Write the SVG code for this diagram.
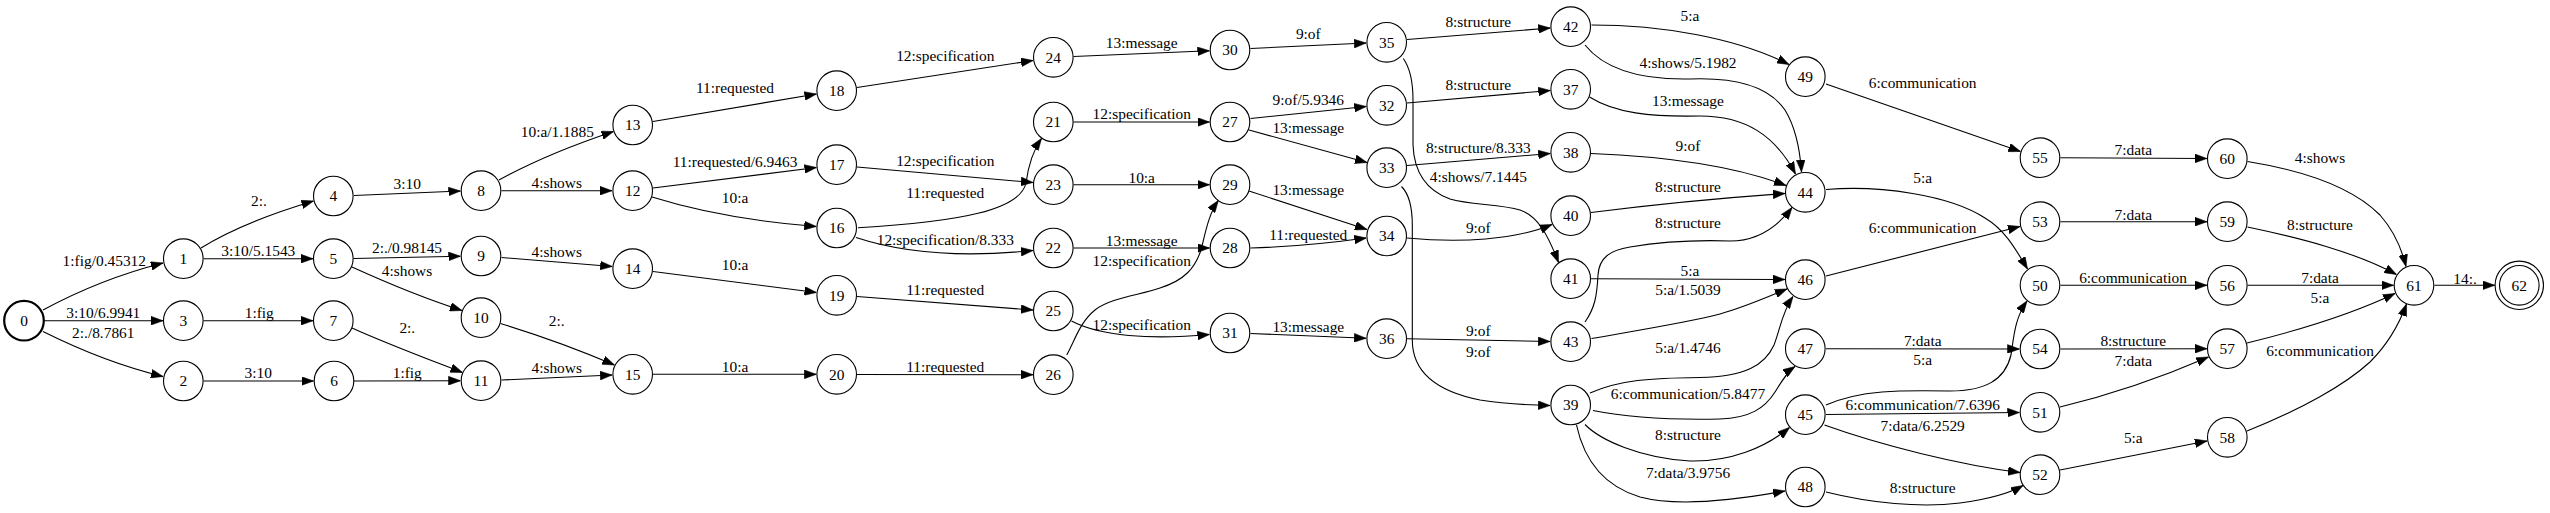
<svg xmlns="http://www.w3.org/2000/svg" width="2550" height="513" viewBox="0 0 2550 513">
<style>
.n circle{fill:none;stroke:#000;stroke-width:1.1}
.n text,.e text{font-family:"Liberation Serif","Times New Roman",serif;font-size:15.4px;text-anchor:middle;fill:#000}
.e path{fill:none;stroke:#000;stroke-width:1.1;marker-end:url(#ah)}
</style>
<defs>
<marker id="ah" markerUnits="userSpaceOnUse" markerWidth="12" markerHeight="9" viewBox="0 0 11 8" refX="11" refY="4" orient="auto">
<path d="M0,0 L11,4 L0,8 z" fill="#000" stroke="#000" stroke-width="0.5"/>
</marker>
</defs>
<rect width="2550" height="513" fill="#fff"/>
<g id="connectors">
<g class="e"><path d="M43,310 C80,290 120,274 163,263"/><text x="104.3" y="265.7">1:fig/0.45312</text></g>
<g class="e"><path d="M44,320.7 L163,320.7"/><text x="103.3" y="318">3:10/6.9941</text></g>
<g class="e"><path d="M43,331.5 C80,350 120,366 163,376.5"/><text x="103.3" y="337.5">2:./8.7861</text></g>
<g class="e"><path d="M201,248 C230,230 270,214 313.5,201"/><text x="259" y="206">2:.</text></g>
<g class="e"><path d="M203.5,258.7 L313,258.7"/><text x="258.3" y="256">3:10/5.1543</text></g>
<g class="e"><path d="M203.5,320.7 L313,320.7"/><text x="259.3" y="318">1:fig</text></g>
<g class="e"><path d="M203.5,381 L313.5,381"/><text x="258.3" y="378">3:10</text></g>
<g class="e"><path d="M354,195.5 L460.5,191"/><text x="407.3" y="189.3">3:10</text></g>
<g class="e"><path d="M353.5,258.5 L460.5,256.2"/><text x="407" y="253.3">2:./0.98145</text></g>
<g class="e"><path d="M352,267 C385,282 420,297 462,310.5"/><text x="407" y="275.7">4:shows</text></g>
<g class="e"><path d="M352,328 C385,343 425,358 462.5,372.5"/><text x="407.3" y="332.5">2:.</text></g>
<g class="e"><path d="M354,381 L460.5,380.7"/><text x="407.3" y="378">1:fig</text></g>
<g class="e"><path d="M499,180 C530,163 570,146 613.5,131.5"/><text x="557.3" y="136.7">10:a/1.1885</text></g>
<g class="e"><path d="M501.5,190.7 L612,190.7"/><text x="556.7" y="188.3">4:shows</text></g>
<g class="e"><path d="M501.5,257.5 L612.3,266.5"/><text x="556.7" y="256.7">4:shows</text></g>
<g class="e"><path d="M500.5,323.5 C535,334 575,348 614.5,365"/><text x="556.7" y="326.3">2:.</text></g>
<g class="e"><path d="M501.5,380 L612.2,375"/><text x="556.7" y="373">4:shows</text></g>
<g class="e"><path d="M653,121.5 L816.5,94"/><text x="735" y="93.3">11:requested</text></g>
<g class="e"><path d="M653,188 L816.5,167.5"/><text x="735" y="167.3">11:requested/6.9463</text></g>
<g class="e"><path d="M652,197 C700,212 760,222 816.3,226.5"/><text x="735" y="203.3">10:a</text></g>
<g class="e"><path d="M653,271.5 L816.5,292.5"/><text x="735" y="270.3">10:a</text></g>
<g class="e"><path d="M653,374.3 L816.3,374.3"/><text x="735" y="372">10:a</text></g>
<g class="e"><path d="M857,87.5 L1033,60.5"/><text x="945.3" y="61">12:specification</text></g>
<g class="e"><path d="M857,167 L1033,182.5"/><text x="945.3" y="165.7">12:specification</text></g>
<g class="e"><path d="M858,227.7 C960,222 1020,210 1026,183 C1028,168 1032,152 1041.5,138.5"/><text x="945.3" y="198.3">11:requested</text></g>
<g class="e"><path d="M856,237.5 C900,252 960,258 1033,250.5"/><text x="945.3" y="245">12:specification/8.333</text></g>
<g class="e"><path d="M857,296.5 L1033,310"/><text x="945.3" y="295.3">11:requested</text></g>
<g class="e"><path d="M857,374.5 L1033,374.7"/><text x="945.3" y="372">11:requested</text></g>
<g class="e"><path d="M1073.5,56.5 L1209.5,50.8"/><text x="1141.7" y="48.3">13:message</text></g>
<g class="e"><path d="M1073.5,122 L1209.5,122"/><text x="1141.7" y="119.3">12:specification</text></g>
<g class="e"><path d="M1073.5,184.7 L1209.5,184.7"/><text x="1141.7" y="182.7">10:a</text></g>
<g class="e"><path d="M1073.5,248 L1209.5,248"/><text x="1141.7" y="245.7">13:message</text></g>
<g class="e"><path d="M1066.7,355 C1075,340 1080,322 1095,310 C1110,298 1140,295 1160,288 C1185,280 1195,268 1201,250 C1205,235 1208,215 1218.3,200.5"/><text x="1141.7" y="266.3">12:specification</text></g>
<g class="e"><path d="M1071.5,321 C1100,336 1150,340 1209.5,334.5"/><text x="1141.7" y="329.7">12:specification</text></g>
<g class="e"><path d="M1250.5,48.5 L1366.2,43"/><text x="1308.3" y="39.3">9:of</text></g>
<g class="e"><path d="M1250.5,118.5 L1366.3,106.5"/><text x="1308.3" y="105">9:of/5.9346</text></g>
<g class="e"><path d="M1249,130 L1367,162.5"/><text x="1308.3" y="133.3">13:message</text></g>
<g class="e"><path d="M1249,191 L1367,229.5"/><text x="1308.3" y="195">13:message</text></g>
<g class="e"><path d="M1250.5,248 C1290,247 1330,243 1366.3,238"/><text x="1308.3" y="240">11:requested</text></g>
<g class="e"><path d="M1250.5,333.5 L1366.2,338.3"/><text x="1308.3" y="332">13:message</text></g>
<g class="e"><path d="M1407,39.5 L1550.3,28"/><text x="1478.3" y="27.3">8:structure</text></g>
<g class="e"><path d="M1407,103 L1550.3,90.5"/><text x="1478.3" y="90">8:structure</text></g>
<g class="e"><path d="M1407,165.5 L1550.3,153.5"/><text x="1478.3" y="153.3">8:structure/8.333</text></g>
<g class="e"><path d="M1403.3,58.5 C1410,68 1413,80 1413,100 L1413,145 C1414,170 1425,190 1450,199 C1470,205 1500,204 1520,210 C1538,216 1548,235 1558.5,262.5"/><text x="1478.3" y="181.7">4:shows/7.1445</text></g>
<g class="e"><path d="M1407,238 C1460,243 1515,240 1552,224.5"/><text x="1478.3" y="233.3">9:of</text></g>
<g class="e"><path d="M1401.5,186.5 C1409,194 1412.3,205 1412.3,225 L1412.3,340 C1412.3,375 1440,392 1480,400 C1505,404 1525,405 1550.2,405.5"/><text x="1478.3" y="357.3">9:of</text></g>
<g class="e"><path d="M1407,338.8 L1550.2,341.5"/><text x="1478.3" y="336.3">9:of</text></g>
<g class="e"><path d="M1591.5,25 C1660,25 1735,37 1789,64.5"/><text x="1690" y="20.7">5:a</text></g>
<g class="e"><path d="M1585,45 C1605,70 1640,80 1690,79 C1740,77 1770,88 1785,110 C1796,128 1800,150 1801.5,172"/><text x="1688" y="68.3">4:shows/5.1982</text></g>
<g class="e"><path d="M1589.5,97 C1615,113 1650,117 1700,116 C1745,116 1775,135 1795.5,174"/><text x="1688" y="105.5">13:message</text></g>
<g class="e"><path d="M1591,153.5 C1680,157 1740,168 1786,185.5"/><text x="1688" y="150.7">9:of</text></g>
<g class="e"><path d="M1591,212.5 C1650,205 1720,198 1785,193.5"/><text x="1688" y="191.7">8:structure</text></g>
<g class="e"><path d="M1585,322 C1595,308 1597,295 1598,275 C1599,258 1610,250 1630,247 C1660,242 1700,240 1730,241 C1755,241 1775,230 1792,207.5"/><text x="1688" y="228.3">8:structure</text></g>
<g class="e"><path d="M1591,278.7 L1785,279.5"/><text x="1690" y="275.5">5:a</text></g>
<g class="e"><path d="M1591.5,338.5 C1640,330 1690,322 1720,314 C1745,307 1765,298 1787,289"/><text x="1688" y="294.7">5:a/1.5039</text></g>
<g class="e"><path d="M1590,393 C1620,380 1650,378 1700,377.5 C1745,377 1765,365 1774,345 C1780,330 1782,312 1793,296.5"/><text x="1688" y="353">5:a/1.4746</text></g>
<g class="e"><path d="M1593,410.5 C1630,418 1670,420 1720,419 C1750,418 1765,408 1775,392 C1782,381 1787,372 1795,366.5"/><text x="1688" y="398.7">6:communication/5.8477</text></g>
<g class="e"><path d="M1585,424.5 C1600,440 1640,458 1690,461 C1730,462 1765,448 1789.5,427.5"/><text x="1688" y="440">8:structure</text></g>
<g class="e"><path d="M1576.5,425 C1583,455 1600,485 1640,497 C1670,505 1720,503 1785,491"/><text x="1688" y="478">7:data/3.9756</text></g>
<g class="e"><path d="M1826,84 L2020.5,151.5"/><text x="1922.7" y="88.3">6:communication</text></g>
<g class="e"><path d="M1826,189.5 C1880,185 1950,195 1985,218 C2005,230 2015,248 2027.5,269"/><text x="1922.7" y="183.3">5:a</text></g>
<g class="e"><path d="M1826,276 L2020,226.5"/><text x="1922.7" y="233.3">6:communication</text></g>
<g class="e"><path d="M1826,348.7 L2019.5,349"/><text x="1922.7" y="346.3">7:data</text></g>
<g class="e"><path d="M1826,405 C1860,390 1900,390 1950,391 C1985,391 2005,380 2011,355 C2014,335 2015,318 2027,301"/><text x="1922.7" y="364.7">5:a</text></g>
<g class="e"><path d="M1826,414.5 L2019.5,412.5"/><text x="1922.7" y="409.7">6:communication/7.6396</text></g>
<g class="e"><path d="M1824.5,425 C1880,445 1960,465 2020,472.5"/><text x="1922.7" y="431.3">7:data/6.2529</text></g>
<g class="e"><path d="M1826,492 C1870,503 1920,508 1960,503 C1990,499 2010,493 2023,485.5"/><text x="1922.7" y="493">8:structure</text></g>
<g class="e"><path d="M2060.5,157.7 L2207,158.5"/><text x="2133.3" y="155">7:data</text></g>
<g class="e"><path d="M2060.5,221.7 L2207,221.7"/><text x="2133.3" y="220">7:data</text></g>
<g class="e"><path d="M2060.5,285.3 L2207,285.3"/><text x="2133" y="283">6:communication</text></g>
<g class="e"><path d="M2060.5,349 L2207,348.7"/><text x="2133.3" y="346.3">8:structure</text></g>
<g class="e"><path d="M2060,407 C2110,395 2160,378 2208.5,357"/><text x="2133.3" y="366.3">7:data</text></g>
<g class="e"><path d="M2060,470 C2110,460 2160,450 2207,441"/><text x="2133.3" y="443">5:a</text></g>
<g class="e"><path d="M2247.5,161.5 C2300,170 2350,185 2380,215 C2395,232 2402,250 2406,266.5"/><text x="2320" y="162.7">4:shows</text></g>
<g class="e"><path d="M2247.5,227 C2300,238 2355,252 2396.5,274.5"/><text x="2320" y="230">8:structure</text></g>
<g class="e"><path d="M2247.5,285.3 L2393.5,285.3"/><text x="2320" y="283">7:data</text></g>
<g class="e"><path d="M2247,343 C2300,330 2350,315 2395,293.5"/><text x="2320" y="303">5:a</text></g>
<g class="e"><path d="M2247,431 C2300,410 2345,385 2370,362 C2390,342 2400,322 2406.5,304"/><text x="2320" y="356.3">6:communication</text></g>
<g class="e"><path d="M2434.5,285.3 L2494.8,285.3"/><text x="2465" y="283.7">14:.</text></g>
</g>
<g id="node0" class="n"><circle cx="24" cy="320.7" r="19.8" style="stroke-width:2.2"/><text x="24" y="326">0</text></g>
<g id="node1" class="n"><circle cx="183.3" cy="258.7" r="19.8"/><text x="183.3" y="264">1</text></g>
<g id="node2" class="n"><circle cx="183.3" cy="381" r="19.8"/><text x="183.3" y="386.3">2</text></g>
<g id="node3" class="n"><circle cx="183.3" cy="320.7" r="19.8"/><text x="183.3" y="326">3</text></g>
<g id="node4" class="n"><circle cx="333.3" cy="196" r="19.8"/><text x="333.3" y="201.3">4</text></g>
<g id="node5" class="n"><circle cx="333.3" cy="258.7" r="19.8"/><text x="333.3" y="264">5</text></g>
<g id="node6" class="n"><circle cx="334" cy="381" r="19.8"/><text x="334" y="386.3">6</text></g>
<g id="node7" class="n"><circle cx="333.3" cy="320.7" r="19.8"/><text x="333.3" y="326">7</text></g>
<g id="node8" class="n"><circle cx="481" cy="190.7" r="19.8"/><text x="481" y="196">8</text></g>
<g id="node9" class="n"><circle cx="481" cy="256" r="19.8"/><text x="481" y="261.3">9</text></g>
<g id="node10" class="n"><circle cx="481" cy="317.7" r="19.8"/><text x="481" y="323">10</text></g>
<g id="node11" class="n"><circle cx="481" cy="380.7" r="19.8"/><text x="481" y="386">11</text></g>
<g id="node12" class="n"><circle cx="632.7" cy="190.7" r="19.8"/><text x="632.7" y="196">12</text></g>
<g id="node13" class="n"><circle cx="632.7" cy="125" r="19.8"/><text x="632.7" y="130.3">13</text></g>
<g id="node14" class="n"><circle cx="632.7" cy="268.7" r="19.8"/><text x="632.7" y="274">14</text></g>
<g id="node15" class="n"><circle cx="632.7" cy="374.3" r="19.8"/><text x="632.7" y="379.6">15</text></g>
<g id="node16" class="n"><circle cx="836.7" cy="228" r="19.8"/><text x="836.7" y="233.3">16</text></g>
<g id="node17" class="n"><circle cx="836.7" cy="164.7" r="19.8"/><text x="836.7" y="170">17</text></g>
<g id="node18" class="n"><circle cx="836.7" cy="90.7" r="19.8"/><text x="836.7" y="96">18</text></g>
<g id="node19" class="n"><circle cx="836.7" cy="295.3" r="19.8"/><text x="836.7" y="300.6">19</text></g>
<g id="node20" class="n"><circle cx="836.7" cy="374.3" r="19.8"/><text x="836.7" y="379.6">20</text></g>
<g id="node21" class="n"><circle cx="1053.3" cy="122" r="19.8"/><text x="1053.3" y="127.3">21</text></g>
<g id="node22" class="n"><circle cx="1053.3" cy="248" r="19.8"/><text x="1053.3" y="253.3">22</text></g>
<g id="node23" class="n"><circle cx="1053.3" cy="184.7" r="19.8"/><text x="1053.3" y="190">23</text></g>
<g id="node24" class="n"><circle cx="1053.3" cy="57.3" r="19.8"/><text x="1053.3" y="62.6">24</text></g>
<g id="node25" class="n"><circle cx="1053.3" cy="311" r="19.8"/><text x="1053.3" y="316.3">25</text></g>
<g id="node26" class="n"><circle cx="1053.3" cy="374.7" r="19.8"/><text x="1053.3" y="380">26</text></g>
<g id="node27" class="n"><circle cx="1230" cy="122" r="19.8"/><text x="1230" y="127.3">27</text></g>
<g id="node28" class="n"><circle cx="1230" cy="248" r="19.8"/><text x="1230" y="253.3">28</text></g>
<g id="node29" class="n"><circle cx="1230" cy="184.7" r="19.8"/><text x="1230" y="190">29</text></g>
<g id="node30" class="n"><circle cx="1230" cy="50" r="19.8"/><text x="1230" y="55.3">30</text></g>
<g id="node31" class="n"><circle cx="1230" cy="333" r="19.8"/><text x="1230" y="338.3">31</text></g>
<g id="node32" class="n"><circle cx="1386.7" cy="105.3" r="19.8"/><text x="1386.7" y="110.6">32</text></g>
<g id="node33" class="n"><circle cx="1386.7" cy="167.7" r="19.8"/><text x="1386.7" y="173">33</text></g>
<g id="node34" class="n"><circle cx="1386.7" cy="236" r="19.8"/><text x="1386.7" y="241.3">34</text></g>
<g id="node35" class="n"><circle cx="1386.7" cy="42.3" r="19.8"/><text x="1386.7" y="47.6">35</text></g>
<g id="node36" class="n"><circle cx="1386.7" cy="338.7" r="19.8"/><text x="1386.7" y="344">36</text></g>
<g id="node37" class="n"><circle cx="1570.7" cy="89.3" r="19.8"/><text x="1570.7" y="94.6">37</text></g>
<g id="node38" class="n"><circle cx="1570.7" cy="152.3" r="19.8"/><text x="1570.7" y="157.6">38</text></g>
<g id="node39" class="n"><circle cx="1570.7" cy="405" r="19.8"/><text x="1570.7" y="410.3">39</text></g>
<g id="node40" class="n"><circle cx="1570.7" cy="215.7" r="19.8"/><text x="1570.7" y="221">40</text></g>
<g id="node41" class="n"><circle cx="1570.7" cy="278.7" r="19.8"/><text x="1570.7" y="284">41</text></g>
<g id="node42" class="n"><circle cx="1570.7" cy="26.7" r="19.8"/><text x="1570.7" y="32">42</text></g>
<g id="node43" class="n"><circle cx="1570.7" cy="341.7" r="19.8"/><text x="1570.7" y="347">43</text></g>
<g id="node44" class="n"><circle cx="1805.3" cy="192.3" r="19.8"/><text x="1805.3" y="197.6">44</text></g>
<g id="node45" class="n"><circle cx="1805.3" cy="414.7" r="19.8"/><text x="1805.3" y="420">45</text></g>
<g id="node46" class="n"><circle cx="1805.3" cy="279.7" r="19.8"/><text x="1805.3" y="285">46</text></g>
<g id="node47" class="n"><circle cx="1805.3" cy="348.7" r="19.8"/><text x="1805.3" y="354">47</text></g>
<g id="node48" class="n"><circle cx="1805.3" cy="487" r="19.8"/><text x="1805.3" y="492.3">48</text></g>
<g id="node49" class="n"><circle cx="1805.3" cy="76.7" r="19.8"/><text x="1805.3" y="82">49</text></g>
<g id="node50" class="n"><circle cx="2040" cy="285.3" r="19.8"/><text x="2040" y="290.6">50</text></g>
<g id="node51" class="n"><circle cx="2040" cy="412.3" r="19.8"/><text x="2040" y="417.6">51</text></g>
<g id="node52" class="n"><circle cx="2040" cy="474.7" r="19.8"/><text x="2040" y="480">52</text></g>
<g id="node53" class="n"><circle cx="2040" cy="221.7" r="19.8"/><text x="2040" y="227">53</text></g>
<g id="node54" class="n"><circle cx="2040" cy="349" r="19.8"/><text x="2040" y="354.3">54</text></g>
<g id="node55" class="n"><circle cx="2040" cy="157.7" r="19.8"/><text x="2040" y="163">55</text></g>
<g id="node56" class="n"><circle cx="2227.3" cy="285.3" r="19.8"/><text x="2227.3" y="290.6">56</text></g>
<g id="node57" class="n"><circle cx="2227.3" cy="348.7" r="19.8"/><text x="2227.3" y="354">57</text></g>
<g id="node58" class="n"><circle cx="2227.3" cy="437.3" r="19.8"/><text x="2227.3" y="442.6">58</text></g>
<g id="node59" class="n"><circle cx="2227.3" cy="221.7" r="19.8"/><text x="2227.3" y="227">59</text></g>
<g id="node60" class="n"><circle cx="2227.3" cy="158.7" r="19.8"/><text x="2227.3" y="164">60</text></g>
<g id="node61" class="n"><circle cx="2414" cy="285.3" r="19.8"/><text x="2414" y="290.6">61</text></g>
<g id="node62" class="n"><circle cx="2519.3" cy="285.3" r="19.8"/><circle cx="2519.3" cy="285.3" r="24.2"/><text x="2519.3" y="290.6">62</text></g>
</svg>
